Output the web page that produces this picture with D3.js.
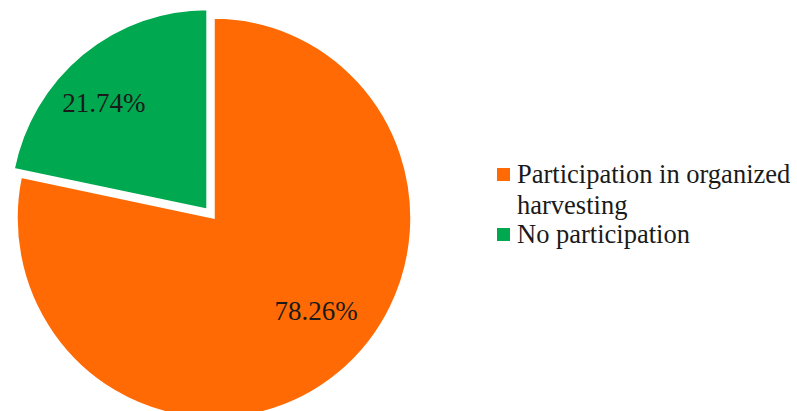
<!DOCTYPE html>
<html>
<head>
<meta charset="utf-8">
<script src="https://cdn.jsdelivr.net/npm/d3@7"></script>
<style>
  html, body { margin: 0; padding: 0; background: #fff; }
  svg { display: block; }
</style>
</head>
<body>
<svg id="chart" width="797" height="411"></svg>
<script>
const categories = ["Participation in organized harvesting", "No participation"];
const legendLines = [["Participation in organized", "harvesting"], ["No participation"]];
const values = [78.26, 21.74];
const labels = ["78.26%", "21.74%"];
const colors = ["#FF6A05", "#00A84F"];
const explode = [0, 11];

const FONT = '"Liberation Serif"';
const svg = d3.select("#chart");
const cx = 214, cy = 218, r = 197, sy = 1.015;

const pie = d3.pie().sort(null).value(d => d)(values);
const arc = d3.arc().innerRadius(0).outerRadius(r);

const g = svg.append("g").attr("transform", `translate(${cx},${cy}) scale(1,${sy})`);

const slices = g.selectAll("g.slice").data(pie).enter().append("g")
  .attr("class", "slice")
  .attr("transform", (d, i) => {
    const a = (d.startAngle + d.endAngle) / 2;
    return `translate(${Math.sin(a) * explode[i]},${-Math.cos(a) * explode[i]})`;
  });

slices.append("path")
  .attr("d", arc)
  .attr("fill", (d, i) => colors[i])
  .attr("stroke", "#fff")
  .attr("stroke-width", 1.5);

const labelR = 143;
const shift = -6.5 * Math.PI / 180;
const lbl = svg.append("g").attr("transform", `translate(${cx},${cy - 7})`);
lbl.selectAll("text").data(pie).enter().append("text")
  .attr("x", (d, i) => Math.sin((d.startAngle + d.endAngle) / 2 + shift) * (labelR + explode[i]))
  .attr("y", (d, i) => -Math.cos((d.startAngle + d.endAngle) / 2 + shift) * (labelR + explode[i]))
  .attr("dy", "0.33em")
  .attr("text-anchor", "middle")
  .style("font-family", FONT)
  .style("font-size", "27px")
  .attr("fill", "#1a1a1a")
  .text((d, i) => labels[i]);

// Legend
const legend = svg.append("g");
const legendY = [183, 243];
categories.forEach((c, i) => {
  const lg = legend.append("g");
  lg.append("rect")
    .attr("x", 497).attr("y", legendY[i] - 15)
    .attr("width", 13).attr("height", 13)
    .attr("fill", colors[i]);
  const t = lg.append("text")
    .attr("x", 517).attr("y", legendY[i])
    .style("font-family", FONT)
    .style("font-size", "26.5px")
    .attr("fill", "#1a1a1a");
  legendLines[i].forEach((line, j) => {
    t.append("tspan").attr("x", 517).attr("dy", j === 0 ? 0 : 31).text(line);
  });
});
</script>
</body>
</html>
